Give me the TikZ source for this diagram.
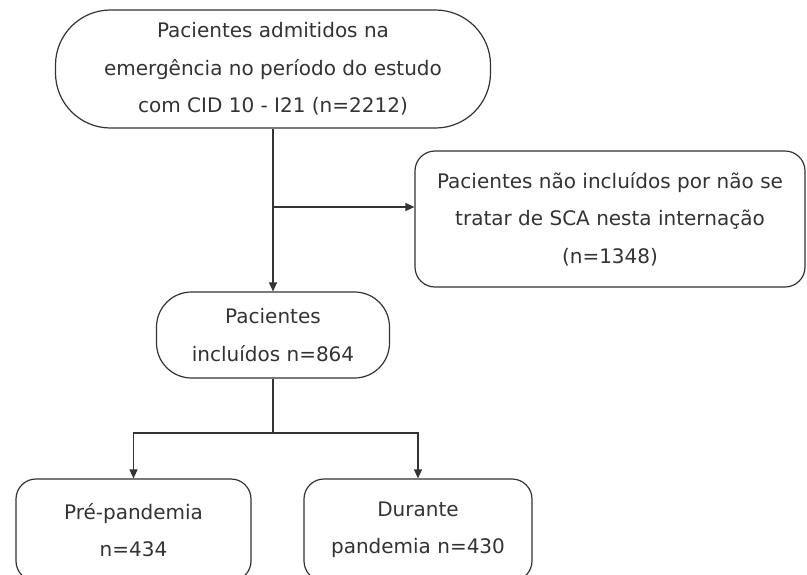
\documentclass[tikz,border=0pt]{standalone}
\usepackage{fontspec}
\setmainfont{DejaVu Sans}
\usepackage{xcolor}
\usepackage{tikz}
\usetikzlibrary{shapes,positioning,arrows.meta}
\definecolor{traco}{HTML}{333333}
\definecolor{texto}{HTML}{333333}
\tikzset{pill/.style={rectangle,draw=traco,line width=1.2pt,rounded corners=55pt,align=center,text=texto,
    font=\fontsize{20}{37.5}\selectfont,inner sep=0pt}}
\tikzset{rbox/.style={rectangle,draw=traco,line width=1.2pt,rounded corners=20pt,align=center,text=texto,
    font=\fontsize{20}{37.5}\selectfont,inner sep=0pt}}
\tikzset{seta/.style={draw=traco,line width=1.2pt,-{Triangle[length=9pt,width=8pt]}}}
\tikzset{linha/.style={draw=traco,line width=1.2pt}}

\begin{document}
\begin{tikzpicture}
        \useasboundingbox (0,0) rectangle (807pt,-574pt);
        \clip (0,0) rectangle (807pt,-574pt);

        \node[pill,minimum width=435pt,minimum height=118pt] (adm) at (273pt,-69pt) {Pacientes admitidos na\\emergência no período do estudo\\com CID 10 - I21 (n=2212)};
        \node[rbox,minimum width=390pt,minimum height=136pt] (excl) at (610pt,-219pt) {Pacientes não incluídos por não se\\tratar de SCA nesta internação\\(n=1348)};
        \node[pill,rounded corners=35pt,minimum width=233pt,minimum height=86pt] (incl) at (273pt,-335pt) {Pacientes\\incluídos n=864};
        \node[rbox,minimum width=235pt,minimum height=102pt] (pre) at (133.5pt,-530pt) {Pré-pandemia\\n=434};
        \node[rbox,minimum width=228pt,minimum height=102pt] (dur) at (418pt,-530pt) {Durante\\pandemia n=430};

        \coordinate (ramo) at (273pt,-207pt);
        \coordinate (div) at (273pt,-433pt);

        \draw [seta] (adm) to (incl);
        \draw [seta] (ramo) to (ramo -| excl.west);
        \draw [linha] (incl) to (div);
        \draw [seta] (div) -| (pre);
        \draw [seta] (div) -| (dur);
    \end{tikzpicture}
\end{document}
